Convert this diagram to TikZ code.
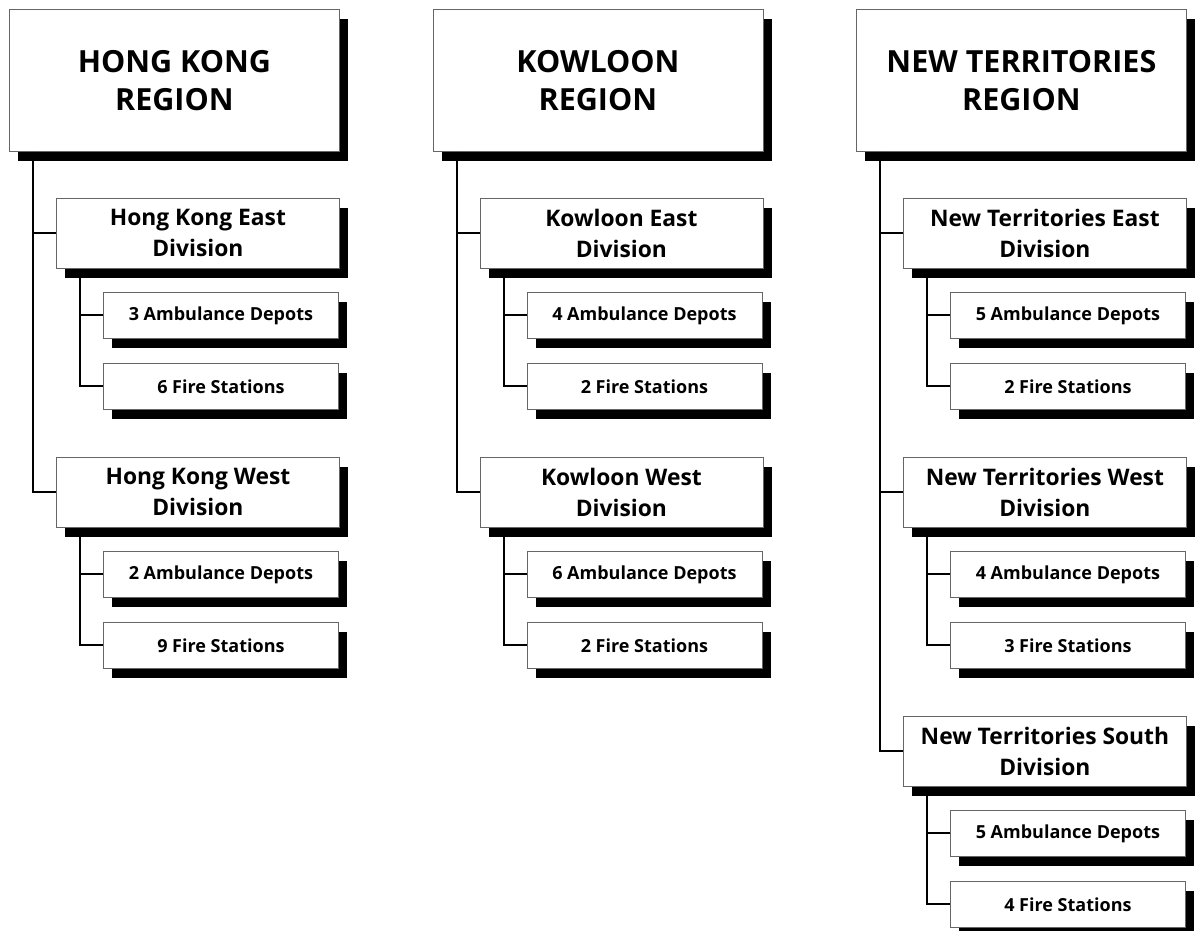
\documentclass[tikz,border=0pt]{standalone}
\usepackage{fontspec}
\setmainfont{Open Sans}
\usetikzlibrary{shadows}
\tikzset{
  x=1pt, y=-1pt,
  basebox/.style={draw=black!60, line width=0.8pt, fill=white, anchor=north west,
    inner sep=0pt, align=center, font=\bfseries,
    drop shadow={shadow xshift=9pt, shadow yshift=-10pt, fill=black, opacity=1}},
  regionbox/.style={basebox, minimum width=330pt, minimum height=142pt, font=\fontsize{30.5}{38}\selectfont\bfseries},
  divbox/.style={basebox, minimum width=283pt, minimum height=70pt, font=\fontsize{22.8}{31}\selectfont\bfseries},
  subbox/.style={basebox, minimum width=235pt, minimum height=46pt, font=\fontsize{18}{21}\selectfont\bfseries},
  conn/.style={line width=2pt, black},
}
\begin{document}
\begin{tikzpicture}
\useasboundingbox (0,0) rectangle (1199,931);
\clip (0,0) rectangle (1199,931);
% ---------------- Hong Kong column
\node[regionbox] (hk) at (9,9) {HONG KONG\\REGION};
\node[divbox] (hke) at (56,198) {Hong Kong East\\Division};
\node[subbox] (hkea) at (103,292) {3 Ambulance Depots};
\node[subbox] (hkef) at (103,363) {6 Fire Stations};
\node[divbox] (hkw) at (56,457) {Hong Kong West\\Division};
\node[subbox] (hkwa) at (103,551) {2 Ambulance Depots};
\node[subbox] (hkwf) at (103,622) {9 Fire Stations};
% ---------------- Kowloon column
\node[regionbox] (kl) at (432.5,9) {KOWLOON\\REGION};
\node[divbox] (kle) at (479.5,198) {Kowloon East\\Division};
\node[subbox] (klea) at (526.5,292) {4 Ambulance Depots};
\node[subbox] (klef) at (526.5,363) {2 Fire Stations};
\node[divbox] (klw) at (479.5,457) {Kowloon West\\Division};
\node[subbox] (klwa) at (526.5,551) {6 Ambulance Depots};
\node[subbox] (klwf) at (526.5,622) {2 Fire Stations};
% ---------------- New Territories column
\node[regionbox] (nt) at (856,9) {NEW TERRITORIES\\REGION};
\node[divbox] (nte) at (903,198) {New Territories East\\Division};
\node[subbox] (ntea) at (950,292) {5 Ambulance Depots};
\node[subbox] (ntef) at (950,363) {2 Fire Stations};
\node[divbox] (ntw) at (903,457) {New Territories West\\Division};
\node[subbox] (ntwa) at (950,551) {4 Ambulance Depots};
\node[subbox] (ntwf) at (950,622) {3 Fire Stations};
\node[divbox] (nts) at (903,716) {New Territories South\\Division};
\node[subbox] (ntsa) at (950,810) {5 Ambulance Depots};
\node[subbox] (ntsf) at (950,881) {4 Fire Stations};
% ---------------- connectors
\foreach \r/\d in {hk/hke, hk/hkw, kl/kle, kl/klw, nt/nte, nt/ntw, nt/nts}
  \draw[conn] ([xshift=24pt]\r.south west) |- (\d.west);
\foreach \d/\s in {hke/hkea, hke/hkef, hkw/hkwa, hkw/hkwf,
                   kle/klea, kle/klef, klw/klwa, klw/klwf,
                   nte/ntea, nte/ntef, ntw/ntwa, ntw/ntwf, nts/ntsa, nts/ntsf}
  \draw[conn] ([xshift=24pt]\d.south west) |- (\s.west);
\end{tikzpicture}
\end{document}
